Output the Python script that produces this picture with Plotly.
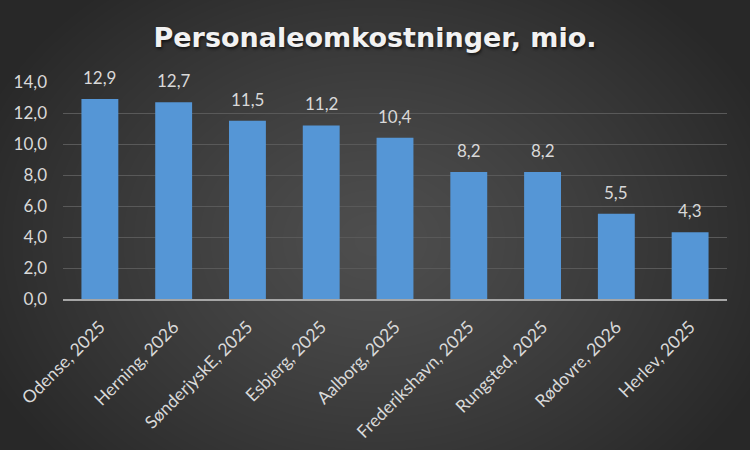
import base64, struct, zlib
import numpy as np
import plotly.graph_objects as go

categories = ["Odense, 2025", "Herning, 2026", "SønderjyskE, 2025", "Esbjerg, 2025",
              "Aalborg, 2025", "Frederikshavn, 2025", "Rungsted, 2025", "Rødovre, 2026", "Herlev, 2025"]
values = [12.9, 12.7, 11.5, 11.2, 10.4, 8.2, 8.2, 5.5, 4.3]
title_text = "Personaleomkostninger, mio."

W, H = 750, 450
ML, MR, MT, MB = 63, 23, 82, 151

# radial gradient background image
def make_png(arr):
    h, w, _ = arr.shape
    raw = b"".join(b"\x00" + arr[i].tobytes() for i in range(h))
    def chunk(t, d):
        c = struct.pack(">I", len(d)) + t + d
        return c + struct.pack(">I", zlib.crc32(t + d) & 0xffffffff)
    return (b"\x89PNG\r\n\x1a\n" + chunk(b"IHDR", struct.pack(">IIBBBBB", w, h, 8, 2, 0, 0, 0))
            + chunk(b"IDAT", zlib.compress(raw, 9)) + chunk(b"IEND", b""))

yy, xx = np.mgrid[0:H, 0:W].astype(float)
d = np.sqrt(((xx - 375) / 430) ** 2 + ((yy - 240) / 330) ** 2)
d = np.clip(d, 0, 1)
inner, outer = 78.0, 40.0
v = inner + (outer - inner) * d ** 1.2
img = np.stack([v, v, v], axis=-1).astype(np.uint8)
uri = "data:image/png;base64," + base64.b64encode(make_png(img)).decode()

pw = W - ML - MR
ph = H - MT - MB

FONT = "Lato, sans-serif"
LBL = "#d9d9d9"

fig = go.Figure(go.Bar(
    x=categories, y=values,
    marker=dict(color="#5596d6", line=dict(width=0)),
    hoverinfo="skip",
))

for c, val in zip(categories, values):
    fig.add_annotation(x=c, y=val, text=f"{val:.1f}".replace(".", ","), showarrow=False,
                       xanchor="center", yanchor="bottom", yshift=9,
                       font=dict(family=FONT, size=17, color=LBL))

fig.update_layout(
    width=W, height=H,
    margin=dict(l=ML, r=MR, t=MT, b=MB, autoexpand=False),
    paper_bgcolor="#333333", plot_bgcolor="rgba(0,0,0,0)",
    separators=",.",
    bargap=0.5,
    showlegend=False,
    title=dict(text="<b>" + title_text + "</b>", x=0.5, xanchor="center", y=1 - 38 / H, yanchor="middle",
               font=dict(family="DejaVu Sans, sans-serif", size=27, color="#f2f2f2",
                         shadow="1px 2px 3px rgba(0,0,0,0.6)")),
    images=[dict(source=uri, xref="paper", yref="paper", x=-ML / pw, y=1 + MT / ph,
                 sizex=W / pw, sizey=H / ph, xanchor="left", yanchor="top",
                 sizing="stretch", layer="below")],
    xaxis=dict(tickangle=-45, tickfont=dict(family=FONT, size=17.5, color=LBL),
               automargin=False, ticklabelstandoff=9,
               showgrid=False, showline=True, linecolor="#a6a6a6", linewidth=2, ticks=""),
    yaxis=dict(range=[0, 14], dtick=2, tickformat=".1f", automargin=False,
               tickfont=dict(family=FONT, size=17, color=LBL), ticklabelstandoff=15,
               showgrid=True, gridcolor="#595959", gridwidth=1, zeroline=False,
               showline=False, ticks="", ticklen=0),
)

fig.write_html("out.html", config={"displayModeBar": False, "staticPlot": True},
               post_script="document.body.style.margin='0';document.body.style.overflow='hidden';")
